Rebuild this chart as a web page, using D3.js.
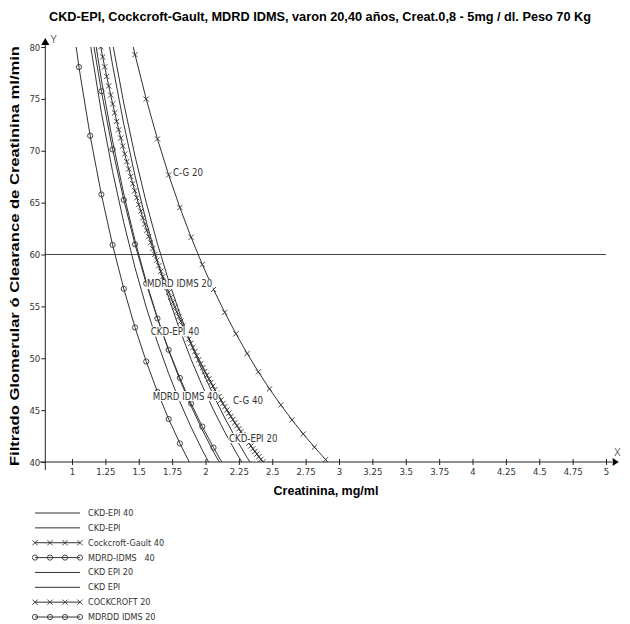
<!DOCTYPE html>
<html><head><meta charset="utf-8">
<script src="https://cdn.jsdelivr.net/npm/d3@7"></script>
<style>body{margin:0;background:#fff;} svg{display:block}</style>
</head><body><svg id="chart" width="630" height="624"></svg>
<script>
const titleText = "CKD-EPI, Cockcroft-Gault, MDRD IDMS, varon 20,40 años, Creat.0,8 - 5mg / dl. Peso 70 Kg";
const xTitle = "Creatinina, mg/ml";
const yTitle = "Filtrado Glomerular ó Clearance de Creatinina ml/min";
const xTicks = [1,1.25,1.5,1.75,2,2.25,2.5,2.75,3,3.25,3.5,3.75,4,4.25,4.5,4.75,5];
const yTicks = [40,45,50,55,60,65,70,75,80];
const refLine = 60;

const cg20Cr = [1.388,1.472,1.556,1.640,1.724,1.808,1.892,1.976,2.060,2.144,2.228,2.312,2.396,2.480,2.564,2.648,2.732,2.816,2.900,2.984];
const cg20Gfr = [84.05,79.26,74.98,71.14,67.67,64.53,61.66,59.04,56.63,54.42,52.36,50.46,48.69,47.04,45.50,44.06,42.70,41.43,40.23,39.10];

const cg40Cr = [1.200,1.215,1.230,1.245,1.260,1.275,1.290,1.305,1.320,1.335,1.350,1.365,1.380,1.395,1.410,1.425,1.440,1.455,1.470,1.485,1.500,1.515,1.530,1.545,1.560,1.575,1.590,1.605,1.620,1.635,1.650,1.665,1.680,1.695,1.710,1.725,1.740,1.755,1.770,1.785,1.800,1.815,1.830,1.845,1.860,1.875,1.890,1.905,1.920,1.935,1.950,1.965,1.980,1.995,2.010,2.025,2.040,2.055,2.070,2.085,2.100,2.115,2.130,2.145,2.160,2.175,2.190,2.205,2.220,2.235,2.250,2.265,2.280,2.295,2.310,2.325,2.340,2.355,2.370,2.385,2.400,2.415,2.430,2.445];
const cg40Gfr = [81.02,80.02,79.04,78.09,77.16,76.25,75.37,74.50,73.65,72.83,72.02,71.22,70.45,69.69,68.95,68.23,67.52,66.82,66.14,65.47,64.81,64.17,63.54,62.93,62.32,61.73,61.15,60.57,60.01,59.46,58.92,58.39,57.87,57.36,56.86,56.36,55.87,55.40,54.93,54.47,54.01,53.57,53.13,52.69,52.27,51.85,51.44,51.04,50.64,50.24,49.86,49.48,49.10,48.73,48.37,48.01,47.66,47.31,46.97,46.63,46.30,45.97,45.64,45.33,45.01,44.70,44.39,44.09,43.79,43.50,43.21,42.92,42.64,42.36,42.09,41.82,41.55,41.28,41.02,40.76,40.51,40.26,40.01,39.76];

const mdrd40Cr = [0.968,1.052,1.136,1.220,1.304,1.388,1.472,1.556,1.640,1.724,1.808,1.892];
const mdrd40Gfr = [85.92,78.06,71.44,65.79,60.92,56.69,52.97,49.69,46.76,44.14,41.79,39.65];

const mdrd20Cr = [1.052,1.136,1.220,1.304,1.388,1.472,1.556,1.640,1.724,1.808,1.892,1.976,2.060,2.144];
const mdrd20Gfr = [89.86,82.23,75.74,70.13,65.26,60.98,57.20,53.83,50.81,48.10,45.64,43.41,41.38,39.51];

const ckdEpi40Cr = [1.052,1.136,1.220,1.304,1.388,1.472,1.556,1.640,1.724,1.808,1.892,1.976,2.060];
const ckdEpi40Gfr = [88.16,80.34,73.70,68.00,63.06,58.73,54.92,51.54,48.52,45.80,43.36,41.14,39.12];

const ckdEpiB40Cr = [1.052,1.136,1.220,1.304,1.388,1.472,1.556,1.640,1.724,1.808,1.892,1.976,2.060,2.144];
const ckdEpiB40Gfr = [91.80,83.72,76.84,70.94,65.82,61.34,57.39,53.88,50.74,47.93,45.39,43.08,40.98,39.06];

const ckdEpi20Cr = [1.136,1.220,1.304,1.388,1.472,1.556,1.640,1.724,1.808,1.892,1.976,2.060,2.144,2.228,2.312];
const ckdEpi20Gfr = [92.44,84.80,78.24,72.56,67.58,63.20,59.30,55.83,52.71,49.89,47.34,45.01,42.89,40.94,39.15];

const ckdEpiB20Cr = [1.136,1.220,1.304,1.388,1.472,1.556,1.640,1.724,1.808,1.892,1.976,2.060,2.144,2.228,2.312,2.396];
const ckdEpiB20Gfr = [94.83,87.05,80.36,74.57,69.49,65.01,61.04,57.48,54.29,51.41,48.80,46.42,44.25,42.26,40.42,38.73];

const legendNames = ["CKD-EPI 40","CKD-EPI","Cockcroft-Gault 40","MDRD-IDMS\u00a0\u00a0\u00a040","CKD EPI 20","CKD EPI","COCKCROFT 20","MDRDD IDMS 20"];
const legendMarks = ["none","none","x","o","none","none","x","o"];

const labelTexts = ["C-G 20","MDRD IDMS 20","CKD-EPI 40","MDRD IDMS 40","C-G 40","CKD-EPI 20"];
const labelCr = [1.757,1.562,1.590,1.605,2.206,2.176];
const labelGfr = [67.95,57.16,52.58,46.36,45.88,42.31];

const series = [
  {cr: ckdEpi40Cr, gfr: ckdEpi40Gfr, mark: "none"},
  {cr: ckdEpiB40Cr, gfr: ckdEpiB40Gfr, mark: "none"},
  {cr: cg40Cr, gfr: cg40Gfr, mark: "x"},
  {cr: mdrd40Cr, gfr: mdrd40Gfr, mark: "o"},
  {cr: ckdEpi20Cr, gfr: ckdEpi20Gfr, mark: "none"},
  {cr: ckdEpiB20Cr, gfr: ckdEpiB20Gfr, mark: "none"},
  {cr: cg20Cr, gfr: cg20Gfr, mark: "x"},
  {cr: mdrd20Cr, gfr: mdrd20Gfr, mark: "o"}
];

const svg = d3.select("#chart");
const ink = "#333";
const narrow = "'Liberation Sans Narrow','Arial Narrow','DejaVu Sans Condensed',sans-serif";
const sans = "'Liberation Sans',Arial,sans-serif";

const x = d3.scaleLinear().domain([0.8, 5.05]).range([45.3, 612.7]);
const y = d3.scaleLinear().domain([40, 80]).range([462, 47]);

svg.append("defs").append("clipPath").attr("id","plotClip")
  .append("rect").attr("x", x(0.8)).attr("y", y(80)).attr("width", x(5.05)-x(0.8)).attr("height", y(40)-y(80));

// title
svg.append("text").attr("x", 320).attr("y", 17).attr("text-anchor","middle").attr("dominant-baseline","central")
  .attr("font-family", sans).attr("font-weight","bold").attr("font-size", 12.5)
  .attr("textLength", 542).attr("lengthAdjust","spacingAndGlyphs").attr("fill","#000").text(titleText);

// reference line at 60
svg.append("line").attr("x1", x(0.8)).attr("x2", x(5.0)).attr("y1", y(refLine)).attr("y2", y(refLine))
  .attr("stroke","#444").attr("stroke-width",1);

const plot = svg.append("g").attr("clip-path","url(#plotClip)");
const line = d3.line().x(d => x(d[0])).y(d => y(d[1]));

function drawMarker(g, kind, cx, cy) {
  if (kind === "x") {
    g.append("path").attr("d", `M${cx-2.6},${cy-2.6}L${cx+2.6},${cy+2.6}M${cx-2.6},${cy+2.6}L${cx+2.6},${cy-2.6}`)
      .attr("stroke", ink).attr("stroke-width", 0.9).attr("fill","none");
  } else if (kind === "o") {
    g.append("circle").attr("cx", cx).attr("cy", cy).attr("r", 2.6)
      .attr("stroke", ink).attr("stroke-width", 0.9).attr("fill","none");
  }
}

series.forEach(s => {
  const pts = s.cr.map((c, i) => [c, s.gfr[i]]);
  plot.append("path").datum(pts).attr("d", line).attr("fill","none").attr("stroke", ink).attr("stroke-width", 1);
  pts.forEach(p => drawMarker(plot, s.mark, x(p[0]), y(p[1])));
});

// curve labels with white background
labelTexts.forEach((t, i) => {
  const g = svg.append("g");
  const txt = g.append("text").attr("x", x(labelCr[i])).attr("y", y(labelGfr[i]))
    .attr("dominant-baseline","central").attr("font-family", narrow).attr("font-size", 9.6)
    .attr("fill", "#333").text(t);
  const bb = txt.node().getBBox();
  g.insert("rect","text").attr("x", bb.x-0.5).attr("y", bb.y+0.5).attr("width", bb.width+1).attr("height", bb.height-1).attr("fill","#fff");
});

// axes
const axisColor = "#222";
svg.append("line").attr("x1", 40).attr("x2", 612).attr("y1", y(40)).attr("y2", y(40)).attr("stroke", axisColor);
svg.append("line").attr("x1", x(0.8)).attr("x2", x(0.8)).attr("y1", 470).attr("y2", 40).attr("stroke", axisColor);
svg.append("path").attr("d", `M${x(5.05)},${y(40)-4}L${x(5.05)+6},${y(40)}L${x(5.05)},${y(40)+4}Z`).attr("fill","#000");
svg.append("path").attr("d", `M${x(0.8)-4},${y(80)-2}L${x(0.8)},${y(80)-9}L${x(0.8)+4},${y(80)-2}Z`).attr("fill","#000");
svg.append("text").attr("x", x(0.8)+5).attr("y", y(80)-8).attr("font-family", sans).attr("font-size", 10).attr("fill","#666").attr("dominant-baseline","central").text("Y");
svg.append("text").attr("x", 614).attr("y", 452).attr("font-family", sans).attr("font-size", 10).attr("fill","#666").attr("dominant-baseline","central").text("X");

const xAxis = svg.append("g").attr("transform", `translate(0,${y(40)})`)
  .call(d3.axisBottom(x).tickValues(xTicks).tickFormat(d => String(d)).tickSizeInner(3).tickSizeOuter(0));
xAxis.select(".domain").remove();
xAxis.selectAll(".tick line").attr("y1", -3).attr("y2", 3).attr("stroke", axisColor);
xAxis.selectAll(".tick text").attr("y", 6).attr("font-family", narrow).attr("font-size", 9.5).attr("fill","#333");

const yAxis = svg.append("g").attr("transform", `translate(${x(0.8)},0)`)
  .call(d3.axisLeft(y).tickValues(yTicks).tickSizeInner(4).tickSizeOuter(0).tickPadding(1));
yAxis.select(".domain").remove();
yAxis.selectAll(".tick line").attr("stroke", axisColor);
yAxis.selectAll(".tick text").attr("font-family", narrow).attr("font-size", 9.5).attr("fill","#333");

// axis titles
svg.append("text").attr("x", 326).attr("y", 491).attr("text-anchor","middle").attr("dominant-baseline","central")
  .attr("font-family", sans).attr("font-weight","bold").attr("font-size", 12.5).attr("fill","#000").text(xTitle);
svg.append("text").attr("transform", "translate(14,256) rotate(-90)").attr("text-anchor","middle").attr("dominant-baseline","central")
  .attr("font-family", sans).attr("font-weight","bold").attr("font-size", 13)
  .attr("textLength", 420).attr("lengthAdjust","spacingAndGlyphs").attr("fill","#000").text(yTitle);

// legend
const lg = svg.append("g");
legendNames.forEach((name, i) => {
  const ly = 513 + i * 14.86;
  lg.append("line").attr("x1", 35).attr("x2", 80).attr("y1", ly).attr("y2", ly).attr("stroke", ink);
  if (legendMarks[i] !== "none") [35, 50, 65, 80].forEach(mx => drawMarker(lg, legendMarks[i], mx, ly));
  lg.append("text").attr("x", 88).attr("y", ly).attr("dominant-baseline","central")
    .attr("font-family", narrow).attr("font-size", 9).attr("fill","#333").text(name);
});
</script>
</body></html>
